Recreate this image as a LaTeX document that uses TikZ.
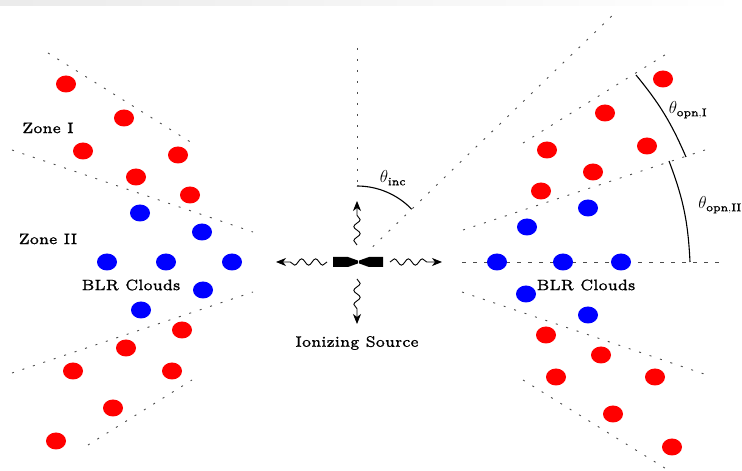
\documentclass[tikz,border=0pt]{standalone}
\usepackage{fontspec}
\setmainfont{lmroman6-regular.otf}[FakeBold=1.3]
\usetikzlibrary{decorations.pathmorphing,arrows.meta,calc}
\begin{document}
\begin{tikzpicture}[x=1pt,y=1pt,
  guide/.style={draw=black!70, line width=0.9pt, dash pattern=on 2pt off 9pt},
  hguide/.style={draw=black!70, line width=0.9pt, dash pattern=on 4pt off 7pt},
  redc/.style={fill=red},
  bluec/.style={fill=blue},
  lbl/.style={font=\fontsize{15}{17}\selectfont, inner sep=0pt},
  mlbl/.style={font=\fontsize{16}{18}\selectfont, inner sep=0pt},
  wave/.style={decorate, decoration={snake, amplitude=3.2pt, segment length=14pt, post length=9pt}},
  tipped/.style={-{Stealth[length=10pt,width=8pt,inset=3pt]}, line width=0.9pt},
  arcline/.style={draw=black, line width=1.1pt}]

\useasboundingbox (0,0) rectangle (742,471);
\shade[left color=black!8, right color=white] (0,465) rectangle (742,471);

\coordinate (C) at (357,209);

% ---- guide lines, right side
\draw[guide] ($(C)+(44:22)$) -- ($(C)+(44:362)$);
\draw[guide] (523,328) -- (668,418);
\draw[guide] (463,241) -- (705,321);
\draw[hguide] (462,209) -- (722,209);
\draw[guide] (462,179) -- (707,96);
\draw[guide] (523,91) -- (668,1);
% ---- guide lines, left side
\draw[guide] (48,418) -- (192,328);
\draw[guide] (12,321) -- (253,239);
\draw[guide] (12,98) -- (253,179);
\draw[guide] (88,26) -- (192,91);
% ---- vertical axis
\draw[guide] (357,423) -- (357,285);

% ---- clouds
\foreach \x/\y in {66/387,124/353,83/320,178/316,136/294,190/276,
                   182/141,126/123,73/100,172/100,113/63,56/30,
                   663/392,605/358,647/325,547/321,593/299,541/280,
                   546/136,601/116,556/94,655/94,613/57,672/24}
  \fill[redc] (\x,\y) ellipse [x radius=10, y radius=8.5];
\foreach \x/\y in {140/258,202/239,107/209,166/209,232/209,203/181,141/161,
                   588/263,527/244,497/209,563/209,621/209,526/177,588/156}
  \fill[bluec] (\x,\y) ellipse [x radius=10, y radius=8.5];

% ---- source
\fill (333,204) -- (348,204) -- (358,207.6) -- (358,210.4) -- (348,214) -- (333,214) -- cycle;
\fill (383,204) -- (369,204) -- (359,207.6) -- (359,210.4) -- (369,214) -- (383,214) -- cycle;

% ---- wavy arrows
\coordinate (upS) at (357,226);
\coordinate (upE) at (357,270);
\coordinate (dnS) at (357,192);
\coordinate (dnE) at (357,147);
\coordinate (lfS) at (327,209);
\coordinate (lfE) at (276,209);
\coordinate (rtS) at (390,209);
\coordinate (rtE) at (442,209);
\draw[tipped, wave] (upS) -- (upE);
\draw[tipped, wave] (dnS) -- (dnE);
\draw[tipped, wave] (lfS) -- (lfE);
\draw[tipped, wave] (rtS) -- (rtE);

% ---- angle arcs
\draw[arcline] ($(C)+(90:76)$) arc[start angle=90, end angle=44, radius=76];
\coordinate (a1s) at (636,396);
\coordinate (a1e) at (686,314);
\coordinate (a2s) at (669,310);
\coordinate (a2e) at (690,209);
\draw[arcline] (a1s) to[bend left=8] (a1e);
\draw[arcline] (a2s) to[bend left=9] (a2e);

% ---- labels
\node[lbl] (zI)  at (48,343) {Zone I};
\node[lbl] (zII) at (48,232) {Zone II};
\node[lbl] (blrL) at (131,186) {BLR Clouds};
\node[lbl] (blrR) at (586,186) {BLR Clouds};
\node[lbl] (ion) at (357,128) {Ionizing Source};
\node[mlbl] (tinc) at (393,293) {$\theta_{\mathbf{inc}}$};
\node[mlbl] (topI) at (688,361) {$\theta_{\mathbf{opn,I}}$};
\node[mlbl] (topII) at (720,266) {$\theta_{\mathbf{opn,II}}$};
\end{tikzpicture}
\end{document}
